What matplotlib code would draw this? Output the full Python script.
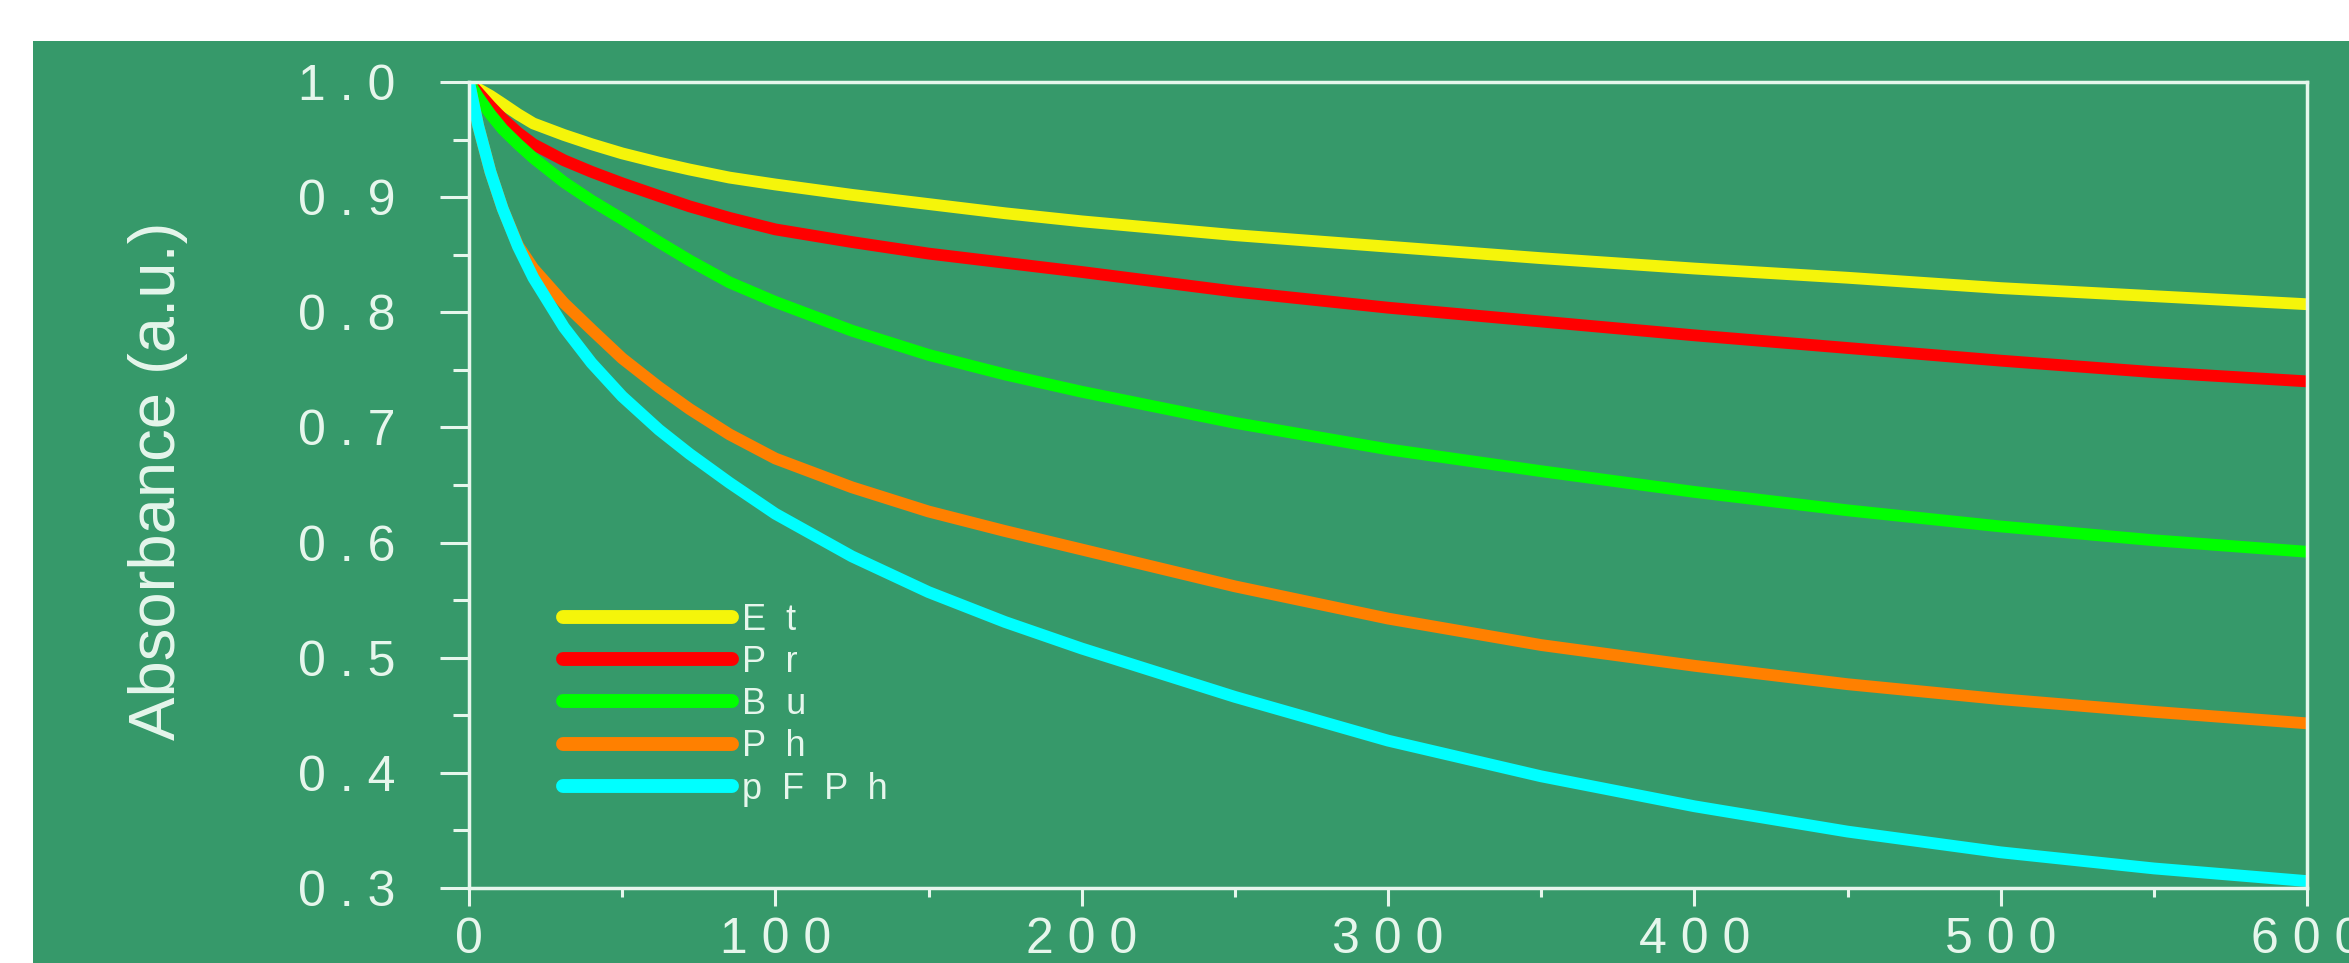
# Import necessary libraries
import matplotlib.pyplot as plt
from matplotlib.patches import Rectangle
from matplotlib.ticker import MultipleLocator, FuncFormatter

# Time axis (x) and normalized absorbance of each sample
time = [0, 3, 7, 11, 16, 21, 31, 40, 50, 62, 72, 85, 100, 125, 150, 175, 200,
        250, 300, 350, 400, 450, 500, 550, 600]

et = [1.0, 0.994, 0.988, 0.981, 0.972, 0.964, 0.954, 0.946, 0.938, 0.930, 0.924, 0.917, 0.911,
      0.902, 0.894, 0.886, 0.879, 0.867, 0.857, 0.847, 0.838, 0.830, 0.821, 0.814, 0.807]
pr = [1.0, 0.991, 0.979, 0.968, 0.956, 0.946, 0.932, 0.922, 0.912, 0.901, 0.892, 0.882, 0.872,
      0.861, 0.851, 0.843, 0.835, 0.818, 0.804, 0.792, 0.780, 0.769, 0.758, 0.748, 0.740]
bu = [1.0, 0.987, 0.972, 0.959, 0.946, 0.934, 0.913, 0.897, 0.881, 0.861, 0.845, 0.826, 0.809,
      0.784, 0.763, 0.746, 0.731, 0.704, 0.681, 0.662, 0.644, 0.628, 0.614, 0.602, 0.592]
ph = [1.0, 0.962, 0.922, 0.890, 0.858, 0.838, 0.808, 0.785, 0.760, 0.735, 0.716, 0.694, 0.673,
      0.648, 0.627, 0.610, 0.594, 0.562, 0.534, 0.511, 0.493, 0.477, 0.464, 0.453, 0.443]
pfph = [1.0, 0.962, 0.922, 0.890, 0.857, 0.830, 0.787, 0.756, 0.727, 0.698, 0.677, 0.652, 0.625,
        0.588, 0.557, 0.531, 0.508, 0.466, 0.428, 0.397, 0.371, 0.349, 0.331, 0.317, 0.306]

labels = ['Et', 'Pr', 'Bu', 'Ph', 'pFPh']
colors = ['#F5F50A', '#FF0000', '#00FF00', '#FF8000', '#00FFFF']

bg = '#36996A'
fg = '#E6F6EC'
plt.rcParams['font.family'] = ['Liberation Sans', 'DejaVu Sans']

fig = plt.figure(figsize=(23.49, 9.63), dpi=100, facecolor='white')

# Green panel behind everything (white strip on top and left)
fig.patches.append(Rectangle((33 / 2349, 0), 1, 1 - 41 / 963, transform=fig.transFigure,
                             facecolor=bg, edgecolor='none', zorder=-10))

ax = fig.add_axes([469 / 2349, 1 - 888 / 963, 1838 / 2349, 806 / 963])
ax.set_facecolor(bg)

for y, lab, c in zip([et, pr, bu, ph, pfph], labels, colors):
    ax.plot(time, y, color=c, lw=8.5, label='  '.join(lab), solid_capstyle='round',
            solid_joinstyle='round')

ax.set_xlim(0, 600)
ax.set_ylim(0.3, 1.0)

ax.xaxis.set_major_locator(MultipleLocator(100))
ax.xaxis.set_minor_locator(MultipleLocator(50))
ax.yaxis.set_major_locator(MultipleLocator(0.1))
ax.yaxis.set_minor_locator(MultipleLocator(0.05))

# Spaced-out tick labels like the original
ax.xaxis.set_major_formatter(FuncFormatter(lambda v, p: ' '.join(str(int(round(v))))))
ax.yaxis.set_major_formatter(FuncFormatter(lambda v, p: ' '.join('%.1f' % v)))

for s in ax.spines.values():
    s.set_color(fg)
    s.set_linewidth(2.5)

ax.tick_params(axis='x', which='major', length=13, width=2.2, color=fg, labelcolor=fg,
               labelsize=36, pad=8)
ax.tick_params(axis='x', which='minor', length=6.5, width=2.2, color=fg)
ax.tick_params(axis='y', which='major', length=21, width=2.2, color=fg, labelcolor=fg,
               labelsize=36, pad=32)
ax.tick_params(axis='y', which='minor', length=11.5, width=2.2, color=fg)

fig.text(158 / 2349, 1 - 481 / 963, 'Absorbance (a.u.)', rotation=90, ha='center', va='center',
         fontsize=47, color=fg)

leg = ax.legend(loc='upper left', bbox_to_anchor=(0.051, 0.354), frameon=False, fontsize=26,
                handlelength=4.7, handletextpad=0.27, labelspacing=0.2, borderpad=0,
                borderaxespad=0)
for t in leg.get_texts():
    t.set_color(fg)
for h in leg.get_lines():
    h.set_linewidth(10)

plt.savefig('out.png', dpi=100, facecolor=fig.get_facecolor())
